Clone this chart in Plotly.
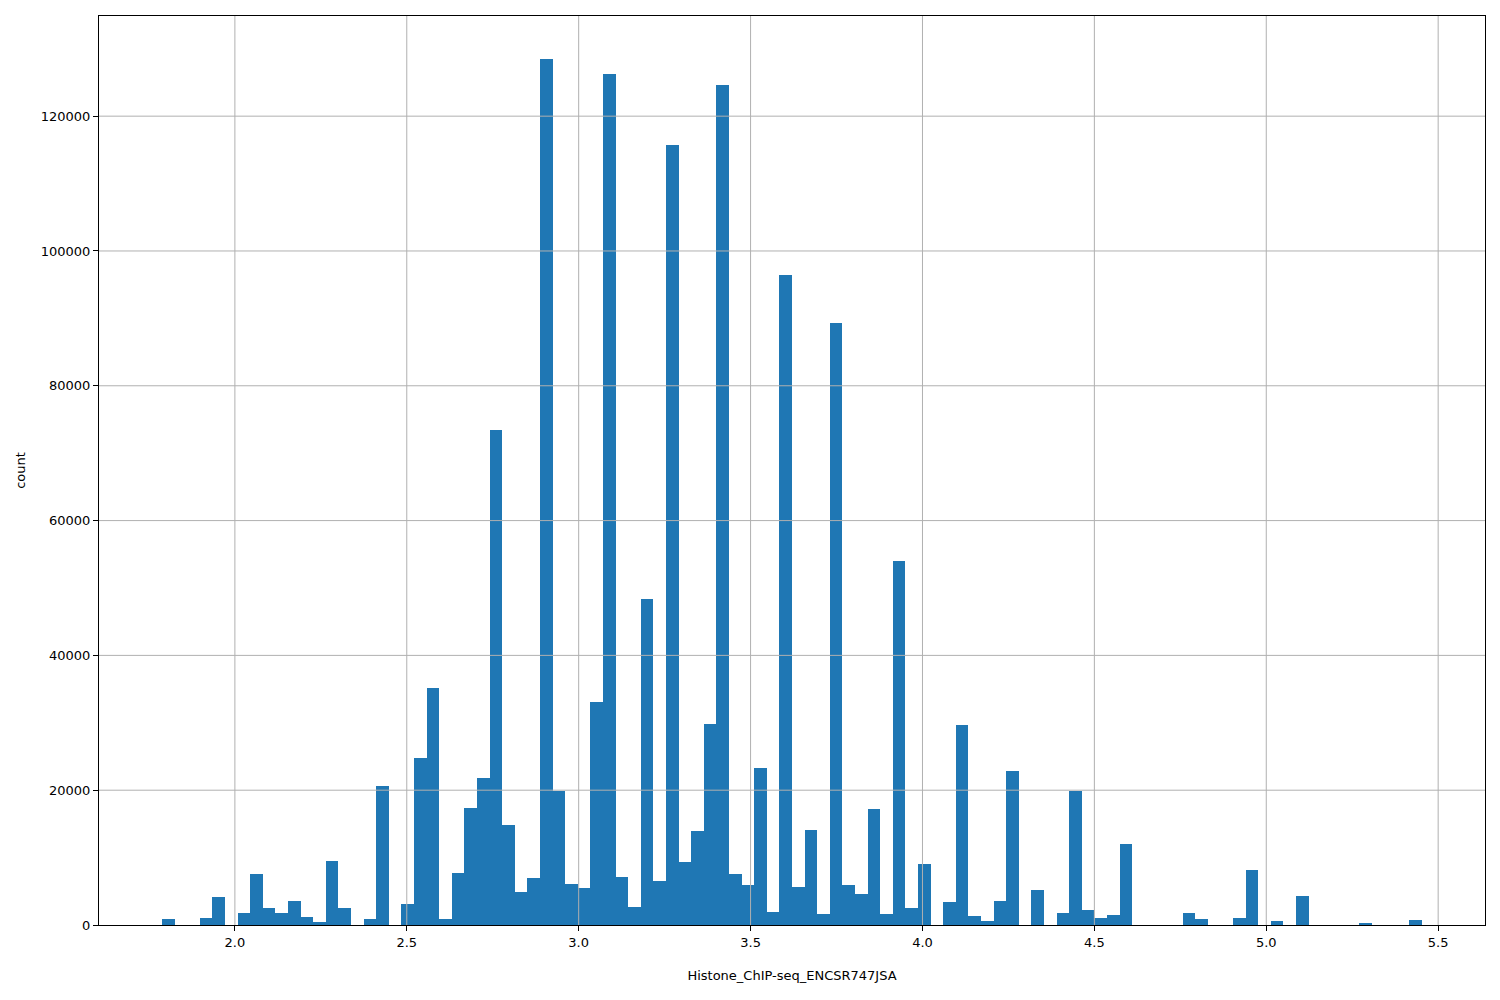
import numpy as np
import plotly.graph_objects as go

# Histogram of Histone_ChIP-seq_ENCSR747JSA values (100 bins)
bin_start = 1.788
bin_end = 5.453
n_bins = 100

counts = [
    900, 0, 0, 1000, 4150, 0, 1800, 7550, 2520, 1780,
    3560, 1190, 440, 9480, 2520, 0, 890, 20590, 0, 3110,
    24740, 35110, 890, 7700, 17330, 21780, 73480, 14810, 4890, 6960,
    128440, 19900, 6070, 5480, 33040, 126220, 7110, 2670, 48300, 6520,
    115700, 9330, 13930, 29780, 124590, 7550, 5930, 23260, 1930, 96440,
    5630, 14070, 1630, 89330, 5930, 4590, 17190, 1630, 54070, 2520,
    9040, 0, 3410, 29630, 1330, 590, 3560, 22810, 0, 5190,
    0, 1780, 19850, 2220, 1040, 1480, 12000, 0, 0, 0,
    0, 1780, 890, 0, 0, 1040, 8150, 0, 590, 0,
    4300, 0, 0, 0, 0, 300, 0, 0, 0, 740,
]

x_ticks = [2.0, 2.5, 3.0, 3.5, 4.0, 4.5, 5.0, 5.5]
x_tick_labels = ["2.0", "2.5", "3.0", "3.5", "4.0", "4.5", "5.0", "5.5"]
y_ticks = [0, 20000, 40000, 60000, 80000, 100000, 120000]
y_tick_labels = ["0", "20000", "40000", "60000", "80000", "100000", "120000"]

x_label = "Histone_ChIP-seq_ENCSR747JSA"
y_label = "count"

edges = np.linspace(bin_start, bin_end, n_bins + 1)
centers = (edges[:-1] + edges[1:]) / 2
width = edges[1] - edges[0]

span = bin_end - bin_start
x_range = [bin_start - 0.05 * span, bin_end + 0.05 * span]
y_range = [0, max(counts) * 1.05]

fig = go.Figure()
fig.add_trace(go.Bar(
    x=centers, y=counts, width=width,
    marker=dict(color="#1f77b4", line=dict(width=0)),
    hoverinfo="x+y",
))

grid_color = "#b0b0b0"
shapes = []
for t in x_ticks:
    shapes.append(dict(type="line", xref="x", yref="paper", x0=t, x1=t, y0=0, y1=1,
                       line=dict(color=grid_color, width=1), layer="above"))
for t in y_ticks[1:]:
    shapes.append(dict(type="line", xref="paper", yref="y", x0=0, x1=1, y0=t, y1=t,
                       line=dict(color=grid_color, width=1), layer="above"))

font = dict(family="DejaVu Sans", size=13, color="black")

fig.update_layout(
    width=1500, height=1000,
    margin=dict(l=91, r=23, t=8, b=83),
    paper_bgcolor="white", plot_bgcolor="white",
    bargap=0, showlegend=False,
    font=font,
    shapes=shapes,
    xaxis=dict(
        range=x_range, tickvals=x_ticks, ticktext=x_tick_labels,
        showgrid=False, zeroline=False,
        showline=True, mirror=True, linecolor="black", linewidth=1,
        ticks="outside", ticklen=5, tickcolor="black", tickfont=font,
        title=dict(text=x_label, font=font, standoff=22),
    ),
    yaxis=dict(
        range=y_range, tickvals=y_ticks, ticktext=y_tick_labels,
        showgrid=False, zeroline=False,
        showline=True, mirror=True, linecolor="black", linewidth=1,
        ticks="outside", ticklen=5, tickcolor="black", tickfont=font,
        title=dict(text=y_label, font=font, standoff=12),
    ),
)

fig.write_html("out.html")
